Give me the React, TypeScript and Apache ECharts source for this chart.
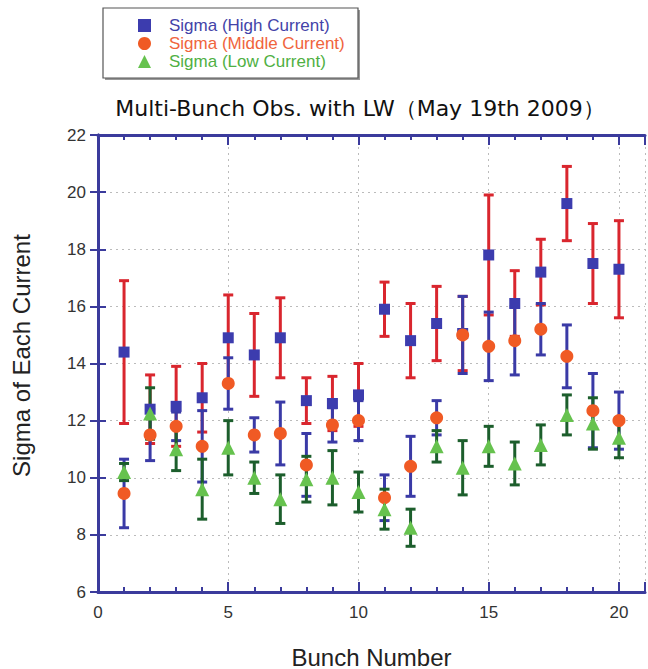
import React, { useEffect, useRef } from "react";
import * as echarts from "echarts";

const bunches = [1, 2, 3, 4, 5, 6, 7, 8, 9, 10, 11, 12, 13, 14, 15, 16, 17, 18, 19, 20];

const highVal = [14.4, 12.4, 12.5, 12.8, 14.9, 14.3, 14.9, 12.7, 12.6, 12.9, 15.9, 14.8, 15.4, 15.05, 17.8, 16.1, 17.2, 19.6, 17.5, 17.3];
const highErr = [2.5, 1.2, 1.4, 1.2, 1.5, 1.45, 1.4, 0.8, 0.95, 1.1, 0.95, 1.3, 1.3, 1.3, 2.1, 1.15, 1.15, 1.3, 1.4, 1.7];

const midVal = [9.45, 11.5, 11.8, 11.1, 13.3, 11.5, 11.55, 10.45, 11.85, 12.0, 9.3, 10.4, 12.1, 15.0, 14.6, 14.8, 15.2, 14.25, 12.35, 12.0];
const midErr = [1.2, 0.9, 0.5, 1.25, 0.9, 0.6, 1.1, 1.1, 0.6, 0.7, 0.8, 1.05, 0.6, 1.35, 1.2, 1.2, 0.9, 1.1, 1.3, 1.0];

const lowVal = [10.2, 12.25, 11.0, 9.6, 11.05, 10.0, 9.25, 9.95, 10.0, 9.5, 8.9, 8.25, 11.1, 10.35, 11.1, 10.5, 11.15, 12.2, 11.9, 11.4];
const lowErr = [0.3, 0.9, 0.75, 1.05, 0.95, 0.55, 0.85, 0.8, 0.95, 0.7, 0.7, 0.65, 0.55, 0.95, 0.7, 0.75, 0.7, 0.7, 0.9, 0.7];

const seriesNames = ["Sigma (High Current)", "Sigma (Middle Current)", "Sigma (Low Current)"];
const titleText = "Multi-Bunch Obs. with LW（May 19th 2009）";
const xName = "Bunch Number";
const yName = "Sigma of Each Current";

const AXIS = "#3b3b9c";
const FONT = "Liberation Sans";

function errData(vals: number[], errs: number[]) {
  return bunches.map((b, i) => [b, vals[i] - errs[i], vals[i] + errs[i]]);
}

function errSeries(name: string, vals: number[], errs: number[], color: string) {
  return {
    type: "custom",
    name: name + " err",
    silent: true,
    z: 2,
    encode: { x: 0, y: [1, 2] },
    data: errData(vals, errs),
    renderItem: (params: any, api: any) => {
      const x = api.value(0);
      const p1 = api.coord([x, api.value(1)]);
      const p2 = api.coord([x, api.value(2)]);
      const hw = 5;
      const st = { stroke: color, lineWidth: 3 };
      return {
        type: "group",
        children: [
          { type: "line", shape: { x1: p1[0], y1: p1[1], x2: p2[0], y2: p2[1] }, style: st },
          { type: "line", shape: { x1: p1[0] - hw, y1: p1[1], x2: p1[0] + hw, y2: p1[1] }, style: st },
          { type: "line", shape: { x1: p2[0] - hw, y1: p2[1], x2: p2[0] + hw, y2: p2[1] }, style: st },
        ],
      };
    },
  };
}

export default function App() {
  const ref = useRef<HTMLDivElement>(null);
  useEffect(() => {
    if (!ref.current) return;
    const chart = echarts.init(ref.current, undefined, { renderer: "svg" });
    const tickLabel = { fontFamily: FONT, fontSize: 17, color: "#333" };
    const option: any = {
      animation: false,
      backgroundColor: "#fff",
      grid: { left: 98, right: 3, top: 135, bottom: 77, containLabel: false, outerBoundsMode: "none" },
      graphic: [
        { type: "rect", shape: { x: 105, y: 10, width: 255, height: 70 }, style: { fill: "#999" }, z: 0 },
        { type: "rect", shape: { x: 103, y: 8, width: 255, height: 70 }, style: { fill: "#fff", stroke: "#555", lineWidth: 1.2 }, z: 1 },
        {
          type: "text",
          x: 360,
          y: 108,
          z: 5,
          style: { text: titleText, fill: "#111", font: `22px "DejaVu Sans"`, textAlign: "center", textVerticalAlign: "middle" },
        },
      ],
      legend: {
        orient: "vertical",
        left: 133,
        top: 12,
        itemGap: 1,
        itemWidth: 13,
        itemHeight: 13,
        z: 10,
        data: [
          { name: seriesNames[0], textStyle: { color: "#4343a8" } },
          { name: seriesNames[1], textStyle: { color: "#f0643c" } },
          { name: seriesNames[2], textStyle: { color: "#4fb043" } },
        ],
        textStyle: { fontFamily: FONT, fontSize: 17, padding: [0, 0, 0, 13] },
      },
      xAxis: [
        {
          type: "value",
          position: "bottom",
          min: 0,
          max: 21,
          interval: 5,
          name: xName,
          nameLocation: "middle",
          nameGap: 53,
          nameTextStyle: { fontFamily: FONT, fontSize: 24, color: "#222" },
          axisLine: { show: true, lineStyle: { color: AXIS, width: 3 } },
          axisTick: { show: true, inside: true, length: 10, lineStyle: { color: AXIS, width: 2 } },
          axisLabel: {
            ...tickLabel,
            margin: 12,
            formatter: (v: number) => (v % 5 === 0 ? String(v) : ""),
          },
          splitLine: { show: true, lineStyle: { color: "#bbb", type: [2, 4], width: 1 } },
        },
        {
          type: "value",
          position: "bottom",
          min: 0,
          max: 21,
          interval: 1,
          axisLine: { show: false },
          axisTick: { show: true, inside: true, length: 5, lineStyle: { color: AXIS, width: 2 } },
          axisLabel: { show: false },
          splitLine: { show: false },
        },
        {
          type: "value",
          position: "top",
          min: 0,
          max: 21,
          interval: 1,
          axisLine: { show: true, lineStyle: { color: AXIS, width: 3 } },
          axisTick: { show: true, inside: true, length: 5, lineStyle: { color: AXIS, width: 2 } },
          axisLabel: { show: false },
          splitLine: { show: false },
        },
        {
          type: "value",
          position: "top",
          min: 0,
          max: 21,
          interval: 5,
          axisLine: { show: false },
          axisTick: { show: true, inside: true, length: 10, lineStyle: { color: AXIS, width: 2 } },
          axisLabel: { show: false },
          splitLine: { show: false },
        },
      ],
      yAxis: [
        {
          type: "value",
          position: "left",
          min: 6,
          max: 22,
          interval: 2,
          name: yName,
          nameLocation: "middle",
          nameGap: 65,
          nameTextStyle: { fontFamily: FONT, fontSize: 24, color: "#222", padding: [0, 0, 0, 16] },
          axisLine: { show: true, lineStyle: { color: AXIS, width: 3 } },
          axisTick: { show: true, inside: true, length: 8, lineStyle: { color: AXIS, width: 2 } },
          axisLabel: { ...tickLabel, margin: 12 },
          splitLine: { show: true, lineStyle: { color: "#bbb", type: [2, 4], width: 1 } },
        },
        {
          type: "value",
          position: "right",
          min: 6,
          max: 22,
          interval: 2,
          axisLine: { show: true, lineStyle: { color: AXIS, width: 3 } },
          axisTick: { show: true, inside: true, length: 8, lineStyle: { color: AXIS, width: 2 } },
          axisLabel: { show: false },
          splitLine: { show: false },
        },
      ],
      series: [
        errSeries(seriesNames[0], highVal, highErr, "#d9262e"),
        errSeries(seriesNames[1], midVal, midErr, "#3a3aa6"),
        errSeries(seriesNames[2], lowVal, lowErr, "#1c5e2c"),
        {
          type: "scatter",
          name: seriesNames[0],
          symbol: "rect",
          symbolSize: 11,
          z: 4,
          itemStyle: { color: "#3c3cae", opacity: 1 },
          data: bunches.map((b, i) => [b, highVal[i]]),
        },
        {
          type: "scatter",
          name: seriesNames[1],
          symbol: "circle",
          symbolSize: 13,
          z: 4,
          itemStyle: { color: "#f05a24", opacity: 1 },
          data: bunches.map((b, i) => [b, midVal[i]]),
        },
        {
          type: "scatter",
          name: seriesNames[2],
          symbol: "triangle",
          symbolSize: 14,
          z: 4,
          itemStyle: { color: "#66c24e", opacity: 1 },
          data: bunches.map((b, i) => [b, lowVal[i]]),
        },
      ],
    };
    chart.setOption(option);
    return () => chart.dispose();
  }, []);
  return (
    <div
      ref={ref}
      style={{ position: "fixed", left: 0, top: 0, width: 648, height: 669, background: "#fff" }}
    />
  );
}
